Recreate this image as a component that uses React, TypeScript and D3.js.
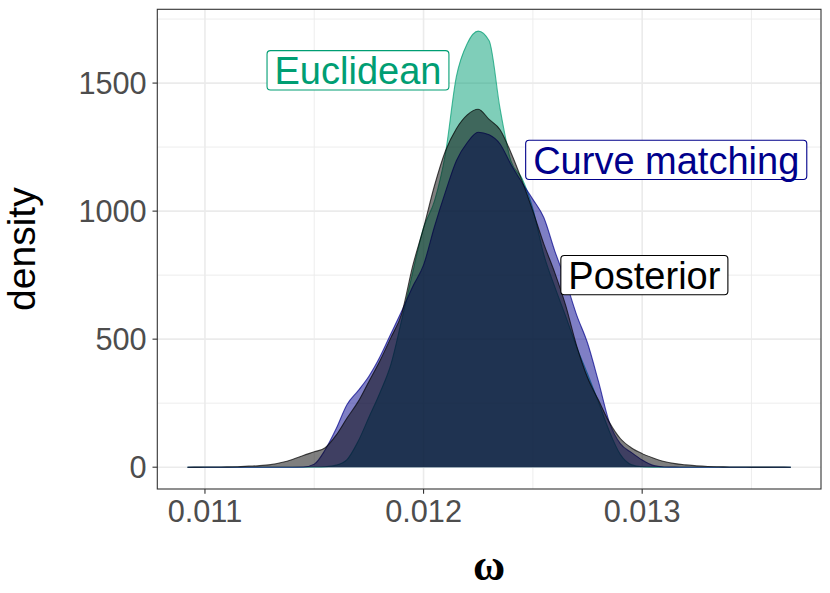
import React from 'react';
import * as d3 from 'd3';

// Shared omega grid
const OMEGA = [
  0.01092, 0.01095, 0.011, 0.01105, 0.0111, 0.01115, 0.0112, 0.01125, 0.0113, 0.01135,
  0.0114, 0.01145, 0.0115, 0.01155, 0.0116, 0.01165, 0.0117, 0.01175, 0.0118, 0.01185,
  0.0119, 0.01195, 0.012, 0.01205, 0.0121, 0.01215, 0.0122, 0.01225, 0.0123, 0.01235,
  0.0124, 0.01245, 0.0125, 0.01255, 0.0126, 0.01265, 0.0127, 0.01275, 0.0128, 0.01285,
  0.0129, 0.01295, 0.013, 0.01305, 0.0131, 0.01315, 0.0132, 0.01325, 0.0133, 0.01335,
  0.0134, 0.01345, 0.0135, 0.01355, 0.0136, 0.01365, 0.01368,
];

const POSTERIOR = [
  0, 0.3, 0.5, 0.8, 1.2, 2, 4, 6, 10, 18,
  30, 46, 60, 76, 125, 192, 255, 335, 415, 505,
  600, 785, 935, 1100, 1235, 1322, 1376, 1398, 1358, 1318,
  1228, 1120, 1000, 872, 760, 632, 475, 350, 262, 175,
  112, 76, 53, 36, 22, 14, 9, 5, 2.5, 1.5,
  1, 0.6, 0.4, 0.3, 0.2, 0.1, 0,
];

const EUCLIDEAN = [
  0, 0, 0, 0, 0, 0, 0, 0, 0, 0,
  0, 0, 0.5, 2, 8, 30, 100, 195, 290, 400,
  575, 760, 935, 1040, 1225, 1525, 1655, 1703, 1665, 1400,
  1195, 1128, 1010, 830, 705, 590, 470, 365, 255, 140,
  50, 10, 1.5, 0.3, 0, 0, 0, 0, 0, 0,
  0, 0, 0, 0, 0, 0, 0,
];

const CURVE_MATCHING = [
  0, 0, 0, 0, 0, 0, 0, 0, 0, 0,
  0, 0.5, 12, 68, 150, 245, 298, 355, 430, 520,
  610, 705, 790, 940, 1075, 1197, 1268, 1308, 1298, 1262,
  1182, 1112, 1046, 975, 845, 728, 595, 485, 335, 175,
  92, 58, 28, 7, 1, 0.1, 0, 0, 0, 0,
  0, 0, 0, 0, 0, 0, 0,
];

const SERIES_NAMES = ['Euclidean', 'Curve matching', 'Posterior'];
const SERIES_VALUES = [EUCLIDEAN, CURVE_MATCHING, POSTERIOR];
const SERIES_COLORS = ['#009E73', '#00008B', '#000000'];

const LABEL_X = [0.0117, 0.01311, 0.01301];
const LABEL_Y = [1550, 1200, 750];

const X_TICKS = [0.011, 0.012, 0.013];
const X_TICK_LABELS = ['0.011', '0.012', '0.013'];
const X_MINOR = [0.0115, 0.0125, 0.0135];
const Y_TICKS = [0, 500, 1000, 1500];
const Y_TICK_LABELS = ['0', '500', '1000', '1500'];
const Y_MINOR = [250, 750, 1250, 1750];

const W = 830;
const H = 593;
const PANEL = { left: 157.3, right: 821, top: 9.3, bottom: 489 };

const SANS = "'Liberation Sans', Arial, Helvetica, sans-serif";

function measure(text: string, font: string): number {
  const c = document.createElement('canvas');
  const ctx = c.getContext('2d');
  if (!ctx) return text.length * 20;
  ctx.font = font;
  return ctx.measureText(text).width;
}

export default function App() {
  const xMin = d3.min(OMEGA) as number;
  const xMax = d3.max(OMEGA) as number;
  const xPad = (xMax - xMin) * 0.05;
  const yMax = d3.max(SERIES_VALUES.flat()) as number;
  const yPad = yMax * 0.05;

  const x = d3.scaleLinear().domain([xMin - xPad, xMax + xPad]).range([PANEL.left, PANEL.right]);
  const y = d3.scaleLinear().domain([-yPad, yMax + yPad]).range([PANEL.bottom, PANEL.top]);

  const area = d3
    .area<number>()
    .x((_, i) => x(OMEGA[i]))
    .y0(() => y(0))
    .y1((d) => y(d))
    .curve(d3.curveMonotoneX);
  const line = d3
    .line<number>()
    .x((_, i) => x(OMEGA[i]))
    .y((d) => y(d))
    .curve(d3.curveMonotoneX);

  const labelFont = 38;
  const tickFont = 30.7;
  const titleFont = 39;

  return (
    <svg width={W} height={H} style={{ position: 'absolute', left: 0, top: 0, background: '#fff' }}>
      <rect x={0} y={0} width={W} height={H} fill="#ffffff" />
      {/* grid */}
      {X_MINOR.map((v) => (
        <line key={'xm' + v} x1={x(v)} x2={x(v)} y1={PANEL.top} y2={PANEL.bottom} stroke="#EBEBEB" strokeWidth={0.9} />
      ))}
      {Y_MINOR.map((v) => (
        <line key={'ym' + v} x1={PANEL.left} x2={PANEL.right} y1={y(v)} y2={y(v)} stroke="#EBEBEB" strokeWidth={0.9} />
      ))}
      {X_TICKS.map((v) => (
        <line key={'xg' + v} x1={x(v)} x2={x(v)} y1={PANEL.top} y2={PANEL.bottom} stroke="#EBEBEB" strokeWidth={1.6} />
      ))}
      {Y_TICKS.map((v) => (
        <line key={'yg' + v} x1={PANEL.left} x2={PANEL.right} y1={y(v)} y2={y(v)} stroke="#EBEBEB" strokeWidth={1.6} />
      ))}

      {/* densities */}
      {SERIES_VALUES.map((vals, i) => (
        <g key={SERIES_NAMES[i]}>
          <path d={area(vals) || ''} fill={SERIES_COLORS[i]} fillOpacity={0.5} stroke="none" />
          <path d={line(vals) || ''} fill="none" stroke={SERIES_COLORS[i]} strokeOpacity={0.7} strokeWidth={1.1} />
        </g>
      ))}

      {/* labels */}
      {SERIES_NAMES.map((name, i) => {
        const tw = measure(name, `${labelFont}px ${SANS}`);
        const bw = tw + 15;
        const bh = 39.3;
        const cx = x(LABEL_X[i]);
        const cy = y(LABEL_Y[i]);
        return (
          <g key={'lab' + name}>
            <rect
              x={cx - bw / 2}
              y={cy - bh / 2}
              width={bw}
              height={bh}
              rx={3.5}
              ry={3.5}
              fill="#ffffff"
              stroke={SERIES_COLORS[i]}
              strokeWidth={1.1}
            />
            <text
              x={cx}
              y={cy}
              dy="0.36em"
              textAnchor="middle"
              fontFamily={SANS}
              fontSize={labelFont}
              fill={SERIES_COLORS[i]}
            >
              {name}
            </text>
          </g>
        );
      })}

      {/* panel border */}
      <rect
        x={PANEL.left}
        y={PANEL.top}
        width={PANEL.right - PANEL.left}
        height={PANEL.bottom - PANEL.top}
        fill="none"
        stroke="#333333"
        strokeWidth={1.1}
      />

      {/* x axis */}
      {X_TICKS.map((v, i) => (
        <g key={'xt' + v}>
          <line x1={x(v)} x2={x(v)} y1={PANEL.bottom} y2={PANEL.bottom + 4.8} stroke="#333333" strokeWidth={1.1} />
          <text x={x(v)} y={521.5} textAnchor="middle" fontFamily={SANS} fontSize={tickFont} fill="#4D4D4D">
            {X_TICK_LABELS[i]}
          </text>
        </g>
      ))}
      {/* y axis */}
      {Y_TICKS.map((v, i) => (
        <g key={'yt' + v}>
          <line x1={PANEL.left - 4.8} x2={PANEL.left} y1={y(v)} y2={y(v)} stroke="#333333" strokeWidth={1.1} />
          <text x={146.7} y={y(v)} dy="0.36em" textAnchor="end" fontFamily={SANS} fontSize={tickFont} fill="#4D4D4D">
            {Y_TICK_LABELS[i]}
          </text>
        </g>
      ))}

      {/* axis titles */}
      <text
        x={(PANEL.left + PANEL.right) / 2}
        y={580}
        textAnchor="middle"
        fontFamily="'Liberation Serif', 'DejaVu Serif', serif"
        fontSize={44}
        fontWeight="bold"
        fill="#000000"
      >
        ω
      </text>
      <text
        transform={`translate(35, ${(PANEL.top + PANEL.bottom) / 2}) rotate(-90)`}
        textAnchor="middle"
        fontFamily={SANS}
        fontSize={titleFont}
        fill="#000000"
      >
        density
      </text>
    </svg>
  );
}
